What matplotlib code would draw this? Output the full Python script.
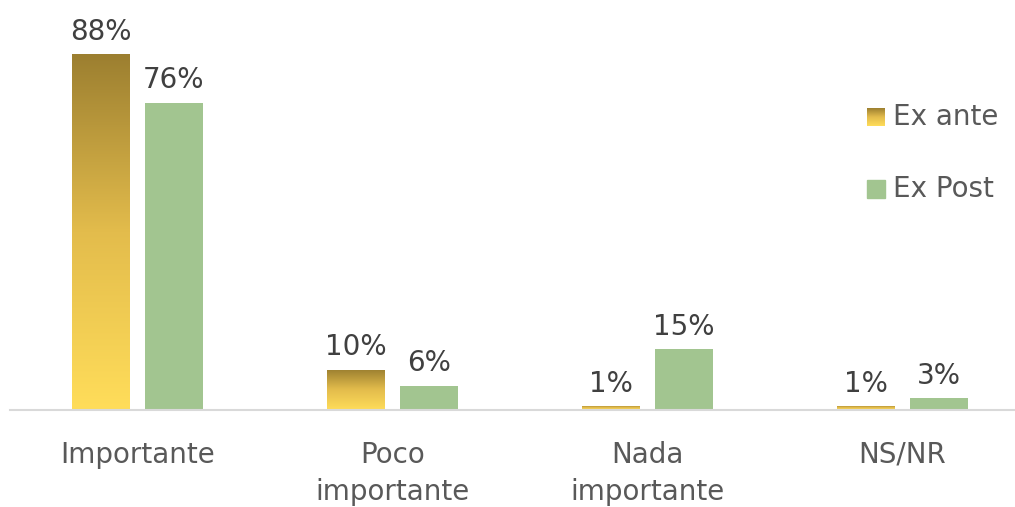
import numpy as np
import matplotlib.pyplot as plt
from matplotlib.colors import LinearSegmentedColormap

categories = ["Importante", "Poco\nimportante", "Nada\nimportante", "NS/NR"]
ex_ante = [88, 10, 1, 1]
ex_post = [76, 6, 15, 3]
series_names = ["Ex ante", "Ex Post"]

plt.rcParams['font.family'] = ['DejaVu Sans']

gold = LinearSegmentedColormap.from_list("gold", ["#FFDD5A", "#E3BC4C", "#9C7F30"])
green = "#A2C590"

W, H = 1015, 507
fig = plt.figure(figsize=(W / 100, H / 100), dpi=100)
ax = fig.add_axes([10 / W, 97 / H, 1005 / W, 410 / H])

x = np.arange(len(categories))
width = 0.227
off = 0.142
bars_a = ax.bar(x - off, ex_ante, width, color="none")
bars_p = ax.bar(x + off, ex_post, width, color=green)

# vertical gradient inside each "Ex ante" bar
grad = np.linspace(0, 1, 256).reshape(-1, 1)
for b in bars_a:
    x0, y0 = b.get_x(), b.get_y()
    im = ax.imshow(grad, cmap=gold, aspect="auto", origin="lower",
                   extent=[x0, x0 + b.get_width(), y0, y0 + b.get_height()], zorder=2)
    im.set_clip_path(b)

for bars, vals in ((bars_a, ex_ante), (bars_p, ex_post)):
    for b, v in zip(bars, vals):
        ax.annotate(f"{v}%", (b.get_x() + b.get_width() / 2, v), xytext=(0, 6),
                    textcoords="offset points", ha="center", va="bottom",
                    fontsize=20, color="#404040")

ax.set_xlim(-0.5, -0.5 + 1005 / 255)
ax.set_ylim(0, 410 / 4.045)
ax.set_xticks(x)
ax.set_xticklabels(categories, fontsize=20, color="#595959", linespacing=1.45)
ax.tick_params(axis="x", length=0, pad=22)
ax.set_yticks([])
for s in ("top", "right", "left"):
    ax.spines[s].set_visible(False)
ax.spines["bottom"].set_color("#D9D9D9")
ax.spines["bottom"].set_linewidth(1.5)

# legend
lax = fig.add_axes([867 / W, 1 - 126 / H, 18 / W, 18 / H])
lax.imshow(grad, cmap=gold, aspect="auto", origin="lower")
lax.axis("off")
fig.patches.append(plt.Rectangle((867 / W, 1 - 198 / H), 18 / W, 18 / H,
                                 transform=fig.transFigure, color=green))
fig.text(893 / W, 1 - 117 / H, series_names[0], fontsize=20, color="#595959", va="center")
fig.text(893 / W, 1 - 189 / H, series_names[1], fontsize=20, color="#595959", va="center")

fig.savefig("out.png", dpi=100)
